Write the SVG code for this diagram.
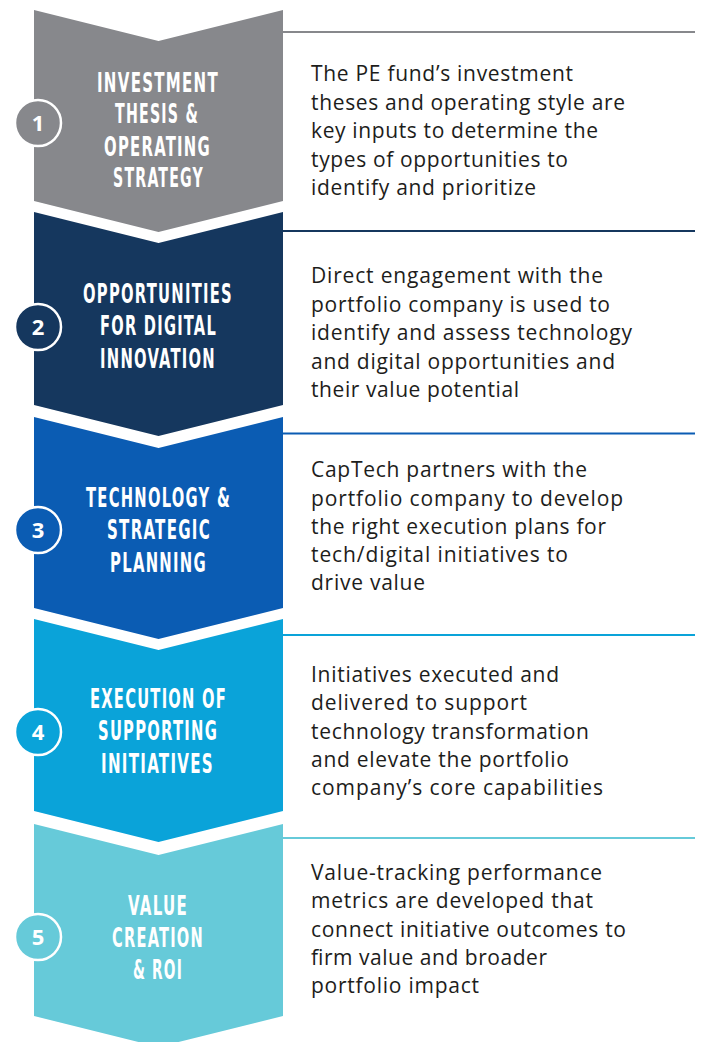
<svg xmlns="http://www.w3.org/2000/svg" width="702" height="1042" viewBox="0 0 702 1042">
<style>
.title{font-family:"Liberation Sans Narrow","DejaVu Sans Condensed","Roboto Condensed",sans-serif;font-stretch:condensed;font-weight:bold;font-size:26px;letter-spacing:2px;fill:#ffffff;text-anchor:middle;}
.num{font-family:"Open Sans","Liberation Sans",sans-serif;font-weight:bold;font-size:22px;fill:#ffffff;text-anchor:middle;}
.desc{font-family:"Open Sans","Liberation Sans",sans-serif;font-size:21px;fill:#1d1d1b;}
.ring{stroke:#ffffff;stroke-width:2.5;}
.rule{stroke-width:2;fill:none;}
</style>
<rect width="702" height="1042" fill="#ffffff"/>
<g id="connectors">
<line class="rule" x1="283" y1="32" x2="695" y2="32" stroke="#87888c"/>
<line class="rule" x1="283" y1="231" x2="695" y2="231" stroke="#15375e"/>
<line class="rule" x1="283" y1="433.5" x2="695" y2="433.5" stroke="#0b5cb3"/>
<line class="rule" x1="283" y1="635" x2="695" y2="635" stroke="#0aa3d9"/>
<line class="rule" x1="283" y1="838" x2="695" y2="838" stroke="#66cad9"/>
</g>
<g id="step1">
<path d="M34,10 L158.5,41 L283,10 L283,201 L158.5,232 L34,201 Z" fill="#87888c"/>
<circle class="ring" cx="38" cy="123" r="23" fill="#87888c"/>
<text class="num" x="38" y="131">1</text>
<text class="title" x="158" y="92" textLength="122" lengthAdjust="spacingAndGlyphs">INVESTMENT</text>
<text class="title" x="157" y="123" textLength="84" lengthAdjust="spacingAndGlyphs">THESIS &amp;</text>
<text class="title" x="157.5" y="156" textLength="107" lengthAdjust="spacingAndGlyphs">OPERATING</text>
<text class="title" x="158.5" y="187" textLength="91" lengthAdjust="spacingAndGlyphs">STRATEGY</text>
<text class="desc" x="311" y="81" textLength="262">The PE fund’s investment</text>
<text class="desc" x="311" y="109.5" textLength="314">theses and operating style are</text>
<text class="desc" x="311" y="138" textLength="287">key inputs to determine the</text>
<text class="desc" x="311" y="166.5" textLength="257">types of opportunities to</text>
<text class="desc" x="311" y="195" textLength="225">identify and prioritize</text>
</g>
<g id="step2">
<path d="M34,212 L158.5,243 L283,212 L283,405 L158.5,436 L34,405 Z" fill="#15375e"/>
<circle class="ring" cx="38" cy="327" r="23" fill="#15375e"/>
<text class="num" x="38" y="335">2</text>
<text class="title" x="158" y="303" textLength="150" lengthAdjust="spacingAndGlyphs">OPPORTUNITIES</text>
<text class="title" x="158.5" y="335" textLength="117" lengthAdjust="spacingAndGlyphs">FOR DIGITAL</text>
<text class="title" x="158" y="368" textLength="116" lengthAdjust="spacingAndGlyphs">INNOVATION</text>
<text class="desc" x="311" y="283" textLength="292">Direct engagement with the</text>
<text class="desc" x="311" y="311.5" textLength="299">portfolio company is used to</text>
<text class="desc" x="311" y="340" textLength="321">identify and assess technology</text>
<text class="desc" x="311" y="368.5" textLength="304">and digital opportunities and</text>
<text class="desc" x="311" y="397" textLength="208">their value potential</text>
</g>
<g id="step3">
<path d="M34,417 L158.5,448 L283,417 L283,608 L158.5,639 L34,608 Z" fill="#0b5cb3"/>
<circle class="ring" cx="38" cy="530" r="23" fill="#0b5cb3"/>
<text class="num" x="38" y="538">3</text>
<text class="title" x="158.5" y="507" textLength="145" lengthAdjust="spacingAndGlyphs">TECHNOLOGY &amp;</text>
<text class="title" x="159" y="539" textLength="104" lengthAdjust="spacingAndGlyphs">STRATEGIC</text>
<text class="title" x="158.5" y="572" textLength="97" lengthAdjust="spacingAndGlyphs">PLANNING</text>
<text class="desc" x="311" y="477" textLength="276">CapTech partners with the</text>
<text class="desc" x="311" y="505.5" textLength="312">portfolio company to develop</text>
<text class="desc" x="311" y="534" textLength="295">the right execution plans for</text>
<text class="desc" x="311" y="562" textLength="257">tech/digital initiatives to</text>
<text class="desc" x="311" y="590" textLength="114">drive value</text>
</g>
<g id="step4">
<path d="M34,619 L158.5,650 L283,619 L283,811 L158.5,842 L34,811 Z" fill="#0aa3d9"/>
<circle class="ring" cx="38" cy="732" r="23" fill="#0aa3d9"/>
<text class="num" x="38" y="740">4</text>
<text class="title" x="158.5" y="708" textLength="137" lengthAdjust="spacingAndGlyphs">EXECUTION OF</text>
<text class="title" x="158" y="740" textLength="120" lengthAdjust="spacingAndGlyphs">SUPPORTING</text>
<text class="title" x="157.5" y="773" textLength="113" lengthAdjust="spacingAndGlyphs">INITIATIVES</text>
<text class="desc" x="311" y="682" textLength="248">Initiatives executed and</text>
<text class="desc" x="311" y="710" textLength="216">delivered to support</text>
<text class="desc" x="311" y="738.5" textLength="278">technology transformation</text>
<text class="desc" x="311" y="767" textLength="258">and elevate the portfolio</text>
<text class="desc" x="311" y="795" textLength="292">company’s core capabilities</text>
</g>
<g id="step5">
<path d="M34,824 L158.5,855 L283,824 L283,1016 L158.5,1047 L34,1016 Z" fill="#66cad9"/>
<circle class="ring" cx="38" cy="937" r="23" fill="#66cad9"/>
<text class="num" x="38" y="945">5</text>
<text class="title" x="158" y="915" textLength="60" lengthAdjust="spacingAndGlyphs">VALUE</text>
<text class="title" x="158" y="947" textLength="92" lengthAdjust="spacingAndGlyphs">CREATION</text>
<text class="title" x="158" y="979" textLength="50" lengthAdjust="spacingAndGlyphs">&amp; ROI</text>
<text class="desc" x="311" y="880" textLength="291">Value-tracking performance</text>
<text class="desc" x="311" y="908" textLength="282">metrics are developed that</text>
<text class="desc" x="311" y="936.5" textLength="315">connect initiative outcomes to</text>
<text class="desc" x="311" y="965" textLength="236">firm value and broader</text>
<text class="desc" x="311" y="993" textLength="168">portfolio impact</text>
</g>
</svg>
